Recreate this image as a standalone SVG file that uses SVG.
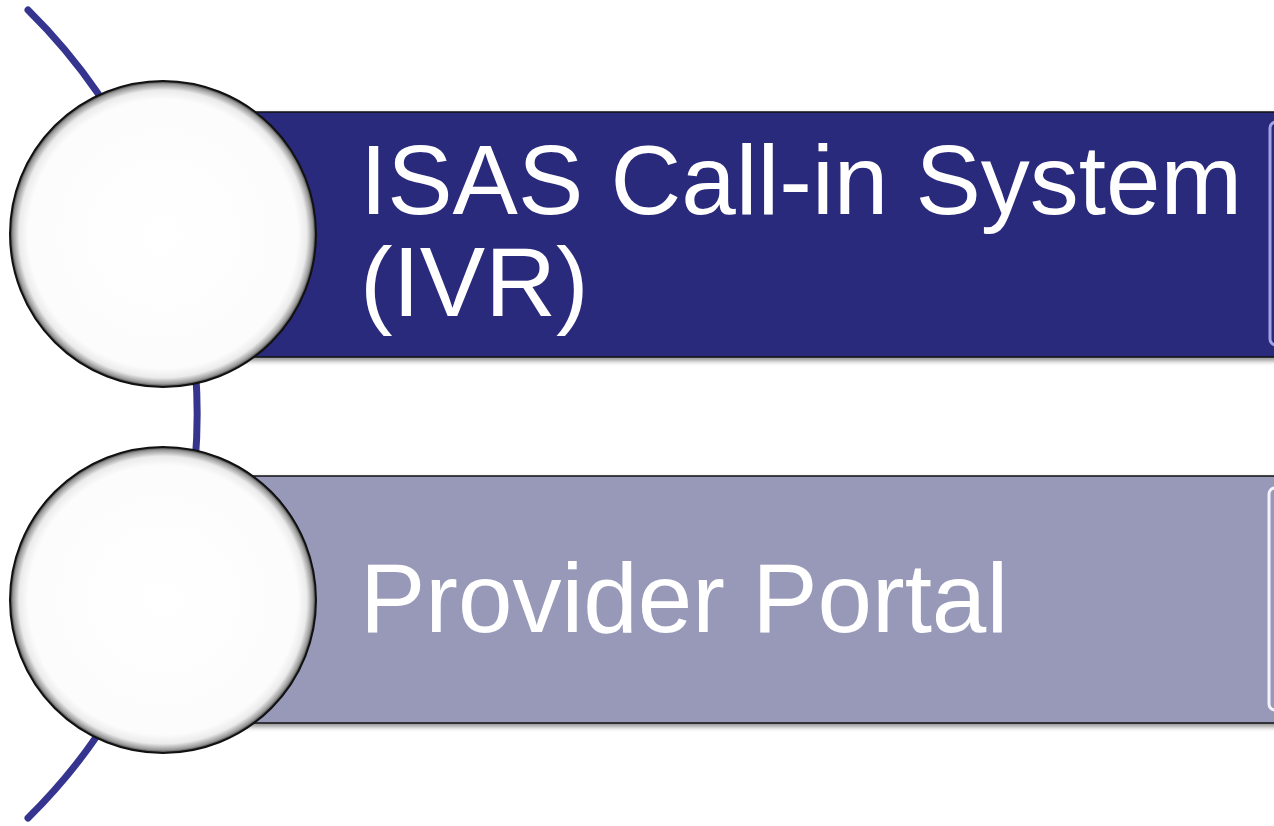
<svg xmlns="http://www.w3.org/2000/svg" width="1274" height="826" viewBox="0 0 1274 826">
<defs>
<radialGradient id="ball" cx="0.5" cy="0.5" r="0.5">
<stop offset="0" stop-color="#ffffff"/>
<stop offset="0.88" stop-color="#fcfcfc"/>
<stop offset="0.94" stop-color="#ebebeb"/>
<stop offset="0.98" stop-color="#999999"/>
<stop offset="1" stop-color="#333333"/>
</radialGradient>
<filter id="shadow" x="-5%" y="-10%" width="110%" height="125%">
<feGaussianBlur in="SourceAlpha" stdDeviation="2.5"/>
<feOffset dx="0" dy="3" result="b"/>
<feComponentTransfer><feFuncA type="linear" slope="0.45"/></feComponentTransfer>
<feMerge><feMergeNode/><feMergeNode in="SourceGraphic"/></feMerge>
</filter>
</defs>
<style>
.bar{stroke:#111;stroke-width:1.5}
.ball{fill:url(#ball);stroke:#111;stroke-width:2}
.lbl{font-family:"Liberation Sans",Arial,sans-serif;font-size:98px;fill:#ffffff}
.inner{fill:none;stroke-width:3}
</style>
<rect width="1274" height="826" fill="#ffffff"/>
<g id="connectors">
<path d="M28,10 A567,567 0 0 1 28,818" fill="none" stroke="#353590" stroke-width="7" stroke-linecap="round"/>
</g>
<g id="node1">
<rect class="bar" x="163" y="112" width="1130" height="245" fill="#2a2a7c" filter="url(#shadow)"/>
<rect class="inner" x="1270" y="122" width="30" height="223" rx="6" stroke="#a3a3e6"/>
<circle class="ball" cx="163" cy="234" r="153"/>
<text class="lbl" x="360" y="214">ISAS Call-in System</text>
<text class="lbl" x="360" y="316">(IVR)</text>
</g>
<g id="node2">
<rect class="bar" x="163" y="476" width="1130" height="247" fill="#9899b8" filter="url(#shadow)"/>
<rect class="inner" x="1269" y="488" width="30" height="222" rx="6" stroke="#f4f4ff"/>
<circle class="ball" cx="163" cy="600" r="153"/>
<text class="lbl" x="360" y="632">Provider Portal</text>
</g>
</svg>
